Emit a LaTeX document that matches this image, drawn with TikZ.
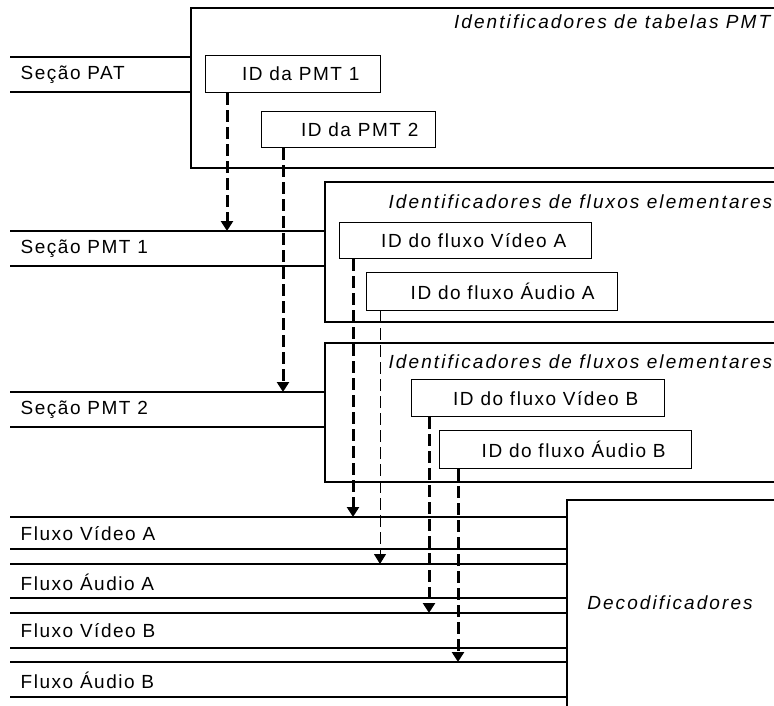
\documentclass[tikz,border=0pt]{standalone}
\usepackage{fontspec}
\setmainfont[LetterSpace=8]{Liberation Sans}
\usetikzlibrary{arrows.meta}

\begin{document}
\begin{tikzpicture}[x=1pt, y=-1pt, line width=1.4pt,
  txt/.style={font=\fontsize{19}{22}\selectfont, inner sep=0pt},
  ital/.style={font=\fontsize{19}{22}\selectfont\itshape\addfontfeature{LetterSpace=11}, inner sep=0pt},
  ttl/.style={ital, anchor=east},
  idbox/.style={draw, line width=1.4pt, anchor=north west, inner sep=0pt,
    font=\fontsize{19}{22}\selectfont},
  band/.style={line width=1.4pt},
  thicklink/.style={line width=3pt, dash pattern=on 12pt off 5pt,
    -{Triangle[width=12pt,length=10pt]}},
  thinlink/.style={line width=1pt, dash pattern=on 12pt off 5pt,
    -{Triangle[width=12pt,length=10pt]}}]

\useasboundingbox (0,0) rectangle (774,706);
\clip (0,0) rectangle (774,706);

% Enclosing panels (open to the right)
\draw (780,8) -- (191,8) -- (191,168) -- (780,168);
\draw (780,182) -- (325,182) -- (325,322) -- (780,322);
\draw (780,343) -- (325,343) -- (325,482) -- (780,482);
\draw (780,500) -- (567,500) -- (567,710);

\node[ttl] (tpmt) at (771,22) {Identificadores de tabelas PMT};
\node[ttl] (tfa) at (773,202) {Identificadores de fluxos elementares};
\node[ttl] (tfb) at (773,362) {Identificadores de fluxos elementares};
\node[ital] (dec) at (670,603) {Decodificadores};

% Identifier boxes
\node[idbox, minimum width=175pt, minimum height=37pt] (pmt1) at (205,55) {\hspace*{15pt}ID da PMT 1};
\node[idbox, minimum width=174pt, minimum height=36pt] (pmt2) at (261,111) {\hspace*{22pt}ID da PMT 2};
\node[idbox, minimum width=252pt, minimum height=36pt] (va) at (339,222) {\hspace*{16pt}ID do fluxo Vídeo A};
\node[idbox, minimum width=251pt, minimum height=38pt] (aa) at (366,272) {\hspace*{21pt}ID do fluxo Áudio A};
\node[idbox, minimum width=253pt, minimum height=37pt] (vb) at (411,379) {\hspace*{15pt}ID do fluxo Vídeo B};
\node[idbox, minimum width=252pt, minimum height=38pt] (ab) at (439,430) {\hspace*{16pt}ID do fluxo Áudio B};

% Section and stream bands
\draw[band] (10,57) -- (191,57) (10,92) -- (191,92);
\node[txt, anchor=west] (spat) at (20,75) {Seção PAT};

\draw[band] (10,231) -- (325,231) (10,266) -- (325,266);
\node[txt, anchor=west] (spmt1) at (20,249) {Seção PMT 1};

\draw[band] (10,392) -- (325,392) (10,427) -- (325,427);
\node[txt, anchor=west] (spmt2) at (20,410) {Seção PMT 2};

\draw[band] (10,517) -- (567,517) (10,549) -- (567,549);
\node[txt, anchor=west] (fva) at (20,534) {Fluxo Vídeo A};
\draw[band] (10,564) -- (567,564) (10,598) -- (567,598);
\node[txt, anchor=west] (faa) at (20,582) {Fluxo Áudio A};
\draw[band] (10,613) -- (567,613) (10,648) -- (567,648);
\node[txt, anchor=west] (fvb) at (20,631) {Fluxo Vídeo B};
\draw[band] (10,662) -- (567,662) (10,697) -- (567,697);
\node[txt, anchor=west] (fab) at (20,680) {Fluxo Áudio B};

% Arrow targets on the bands
\coordinate (to1) at (227,231);
\coordinate (to2) at (283,392);
\coordinate (tva) at (353,517);
\coordinate (taa) at (380,564);
\coordinate (tvb) at (429,613);
\coordinate (tab) at (458,662);

% Identifier links
\draw[thicklink] (pmt1.south -| to1) -- (to1);
\draw[thicklink] (pmt2.south -| to2) -- (to2);
\draw[thicklink] (va.south -| tva) -- (tva);
\draw[thinlink] (aa.south -| taa) -- (taa);
\draw[thicklink] (vb.south -| tvb) -- (tvb);
\draw[thicklink] (ab.south -| tab) -- (tab);
\end{tikzpicture}
\end{document}
